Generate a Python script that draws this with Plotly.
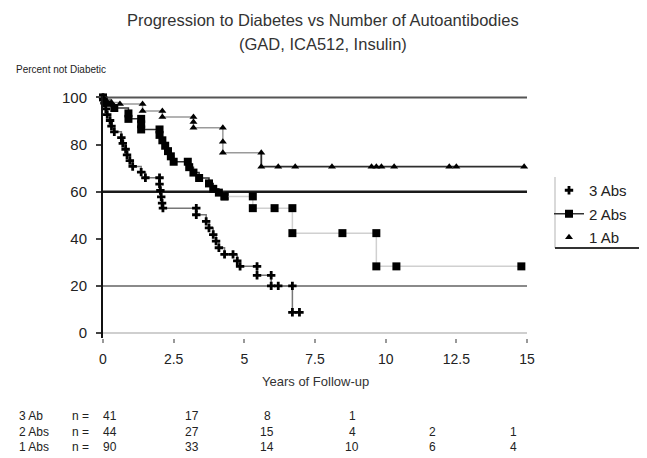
import plotly.graph_objects as go

# ---------------- data ----------------
# Kaplan-Meier points for each group: years of follow-up and percent not diabetic
years_3abs = [0, 0.05, 0.1, 0.15, 0.25, 0.3, 0.4, 0.65, 0.7, 0.8, 0.85, 0.95, 1.05, 1.35, 1.5,
              2.0, 2.0, 2.03, 2.06, 2.09, 2.12, 3.3, 3.3, 3.65, 3.75, 3.9, 4.0, 4.1, 4.3, 4.6,
              4.75, 4.85, 5.45, 5.45, 5.95, 5.95, 6.2, 6.7, 6.7, 6.95]
pct_3abs = [100, 97.6, 95.1, 92.7, 90.2, 87.8, 85.4, 82.9, 80.5, 78.0, 75.6, 73.2, 70.7, 68.3, 65.9,
            65.9, 63.2, 60.5, 57.8, 55.1, 53.0, 53.0, 50.2, 47.4, 44.6, 41.8, 39.0, 36.2, 33.4, 33.4,
            30.6, 28.3, 28.3, 24.5, 24.5, 20.0, 20.0, 20.0, 8.8, 8.8]

years_2abs = [0, 0.15, 0.4, 0.9, 0.9, 1.35, 1.35, 1.35, 2.0, 2.0, 2.1, 2.2, 2.3, 2.4, 2.5,
              3.0, 3.05, 3.2, 3.4, 3.75, 3.9, 4.1, 4.3, 5.3, 5.3, 6.07, 6.7, 6.7, 8.47, 9.67,
              9.67, 10.38, 14.8]
pct_2abs = [100, 97.7, 95.5, 93.2, 90.9, 90.9, 88.6, 86.4, 86.4, 84.1, 81.8, 79.5, 77.2, 75.0, 72.7,
            72.7, 70.4, 68.1, 65.8, 63.5, 61.2, 59.6, 58.0, 58.0, 53.0, 53.0, 53.0, 42.4, 42.4, 42.4,
            28.3, 28.3, 28.3]

years_1ab = [0, 0.1, 0.3, 0.6, 1.4, 1.4, 2.1, 2.1, 3.2, 3.2, 3.2, 4.24, 4.24, 4.24, 5.6, 5.6,
             6.2, 6.8, 8.1, 9.5, 9.67, 9.85, 10.3, 12.25, 12.5, 14.9]
pct_1ab = [100, 98.9, 97.8, 97.2, 97.2, 94.2, 94.2, 91.7, 91.7, 89.6, 87.1, 87.1, 81.2, 76.5, 76.5, 70.6,
           70.6, 70.6, 70.6, 70.6, 70.6, 70.6, 70.6, 70.6, 70.6, 70.6]

x_ticks = [0, 2.5, 5, 7.5, 10, 12.5, 15]
x_tick_labels = ["0", "2.5", "5", "7.5", "10", "12.5", "15"]
y_ticks = [0, 20, 40, 60, 80, 100]
y_tick_labels = ["0", "20", "40", "60", "80", "100"]

# numbers at risk table
risk_labels = ["3 Ab", "2 Abs", "1 Abs"]
risk_counts = [
    ["41", "17", "8", "1"],
    ["44", "27", "15", "4", "2", "1"],
    ["90", "33", "14", "10", "6", "4"],
]

title_lines = ["Progression to Diabetes vs Number of Autoantibodies", "(GAD, ICA512, Insulin)"]

# ---------------- layout helpers ----------------
W, H = 647, 458
ML, MR, MT, MB = 103, 120, 96, 120
PW, PH = W - ML - MR, H - MT - MB


def px_x(px):
    return (px - ML) / PW


def px_y(py):
    return (H - MB - py) / PH


fig = go.Figure()

# reference lines (horizontal rules)
rule_vals = [100, 60, 20, 0]
rule_cols = ["#555555", "#1a1a1a", "#8a8a8a", "#cfcfcf"]
rule_w = [2, 2.5, 2, 2]
for v, c, w in zip(rule_vals, rule_cols, rule_w):
    fig.add_shape(type="line", xref="x", yref="y", x0=0, x1=15, y0=v, y1=v,
                  line=dict(color=c, width=w), layer="below")

# 3 Abs
fig.add_trace(go.Scatter(x=years_3abs, y=pct_3abs, mode="lines", line_shape="hv",
                         line=dict(color="#777777", width=1.5), showlegend=False,
                         legendgroup="g3", hoverinfo="skip", cliponaxis=False))
fig.add_trace(go.Scatter(x=years_3abs, y=pct_3abs, mode="markers", name="3 Abs",
                         marker=dict(symbol="cross", size=7, color="black"),
                         legendgroup="g3", cliponaxis=False))

# 2 Abs (early part darker line, later part light line)
split2 = next(i for i, t in enumerate(years_2abs) if t >= 4.3)
fig.add_trace(go.Scatter(x=years_2abs[:split2 + 1], y=pct_2abs[:split2 + 1], mode="lines+markers",
                         line_shape="hv", name="2 Abs",
                         line=dict(color="#333333", width=1.5),
                         marker=dict(symbol="square", size=8, color="black"),
                         legendgroup="g2", cliponaxis=False))
fig.add_trace(go.Scatter(x=years_2abs[split2:], y=pct_2abs[split2:], mode="lines+markers",
                         line_shape="hv", showlegend=False,
                         line=dict(color="#d0d0d0", width=1.5),
                         marker=dict(symbol="square", size=8, color="black"),
                         legendgroup="g2", cliponaxis=False))

# 1 Ab (upper part grey line, plateau dark line)
split1 = next(i for i, t in enumerate(years_1ab) if t >= 5.6)
fig.add_trace(go.Scatter(x=years_1ab[:split1 + 1], y=pct_1ab[:split1 + 1], mode="lines",
                         line_shape="hv", line=dict(color="#9a9a9a", width=1.5), showlegend=False,
                         legendgroup="g1", hoverinfo="skip", cliponaxis=False))
fig.add_trace(go.Scatter(x=years_1ab[split1:], y=pct_1ab[split1:], mode="lines",
                         line_shape="hv", line=dict(color="#2e2e2e", width=1.8), showlegend=False,
                         legendgroup="g1", hoverinfo="skip", cliponaxis=False))
fig.add_trace(go.Scatter(x=years_1ab, y=pct_1ab, mode="markers", name="1 Ab",
                         marker=dict(symbol="triangle-up", size=7, color="black"),
                         legendgroup="g1", cliponaxis=False))

font_family = "Liberation Sans, Arial, sans-serif"

fig.update_layout(
    width=W, height=H,
    margin=dict(l=ML, r=MR, t=MT, b=MB),
    paper_bgcolor="white", plot_bgcolor="white",
    font=dict(family=font_family, size=13, color="#222"),
    xaxis=dict(range=[0, 15], tickvals=x_ticks, ticktext=x_tick_labels,
               showgrid=False, zeroline=False, showline=False,
               ticks="outside", ticklen=4, tickwidth=2, tickcolor="#999",
               ticklabelstandoff=4, tickfont=dict(size=14, color="#222")),
    yaxis=dict(range=[-2.1, 100.6], tickvals=y_ticks, ticktext=y_tick_labels,
               showgrid=False, zeroline=False, showline=True, linecolor="#111", linewidth=2,
               ticks="outside", ticklen=5, tickwidth=2, tickcolor="#444",
               ticklabelstandoff=6, tickfont=dict(size=15, color="#222")),
    legend=dict(x=px_x(549), y=px_y(174), xanchor="left", yanchor="top",
                bgcolor="rgba(0,0,0,0)", borderwidth=0, tracegroupgap=1,
                font=dict(size=15, color="#222")),
    showlegend=True,
)

# title (two lines)
for txt, py in zip(title_lines, [20, 44]):
    fig.add_annotation(text=txt, xref="paper", yref="paper", x=px_x(323), y=px_y(py),
                       xanchor="center", yanchor="middle", showarrow=False,
                       font=dict(size=16.5, color="#333"))

# legend frame lines
fig.add_shape(type="line", xref="paper", yref="paper", x0=px_x(555), x1=px_x(555),
              y0=px_y(177), y1=px_y(248), line=dict(color="#cccccc", width=1.5))
fig.add_shape(type="line", xref="paper", yref="paper", x0=px_x(555), x1=px_x(639),
              y0=px_y(248), y1=px_y(248), line=dict(color="#333333", width=2))

# axis titles
fig.add_annotation(text="Percent not Diabetic", xref="paper", yref="paper",
                   x=px_x(14), y=px_y(69), xanchor="left", yanchor="middle", showarrow=False,
                   font=dict(size=10, color="#222"))
fig.add_annotation(text="Years of Follow-up", xref="paper", yref="paper",
                   x=px_x(315), y=px_y(381), xanchor="center", yanchor="middle", showarrow=False,
                   font=dict(size=13, color="#333"))

# numbers-at-risk table
row_py = [416, 432, 447]
col_px = [110, 192, 267, 352, 432, 513]
for r, (lab, counts) in enumerate(zip(risk_labels, risk_counts)):
    yp = px_y(row_py[r])
    fig.add_annotation(text=lab, xref="paper", yref="paper", x=px_x(17), y=yp,
                       xanchor="left", yanchor="middle", showarrow=False,
                       font=dict(size=12, color="#222"))
    fig.add_annotation(text="n =", xref="paper", yref="paper", x=px_x(70), y=yp,
                       xanchor="left", yanchor="middle", showarrow=False,
                       font=dict(size=12, color="#222"))
    for c, val in enumerate(counts):
        fig.add_annotation(text=val, xref="paper", yref="paper", x=px_x(col_px[c]), y=yp,
                           xanchor="center", yanchor="middle", showarrow=False,
                           font=dict(size=12, color="#222"))

fig.write_html("out.html", config={"displayModeBar": False},
               post_script="document.body.style.margin='0';")
